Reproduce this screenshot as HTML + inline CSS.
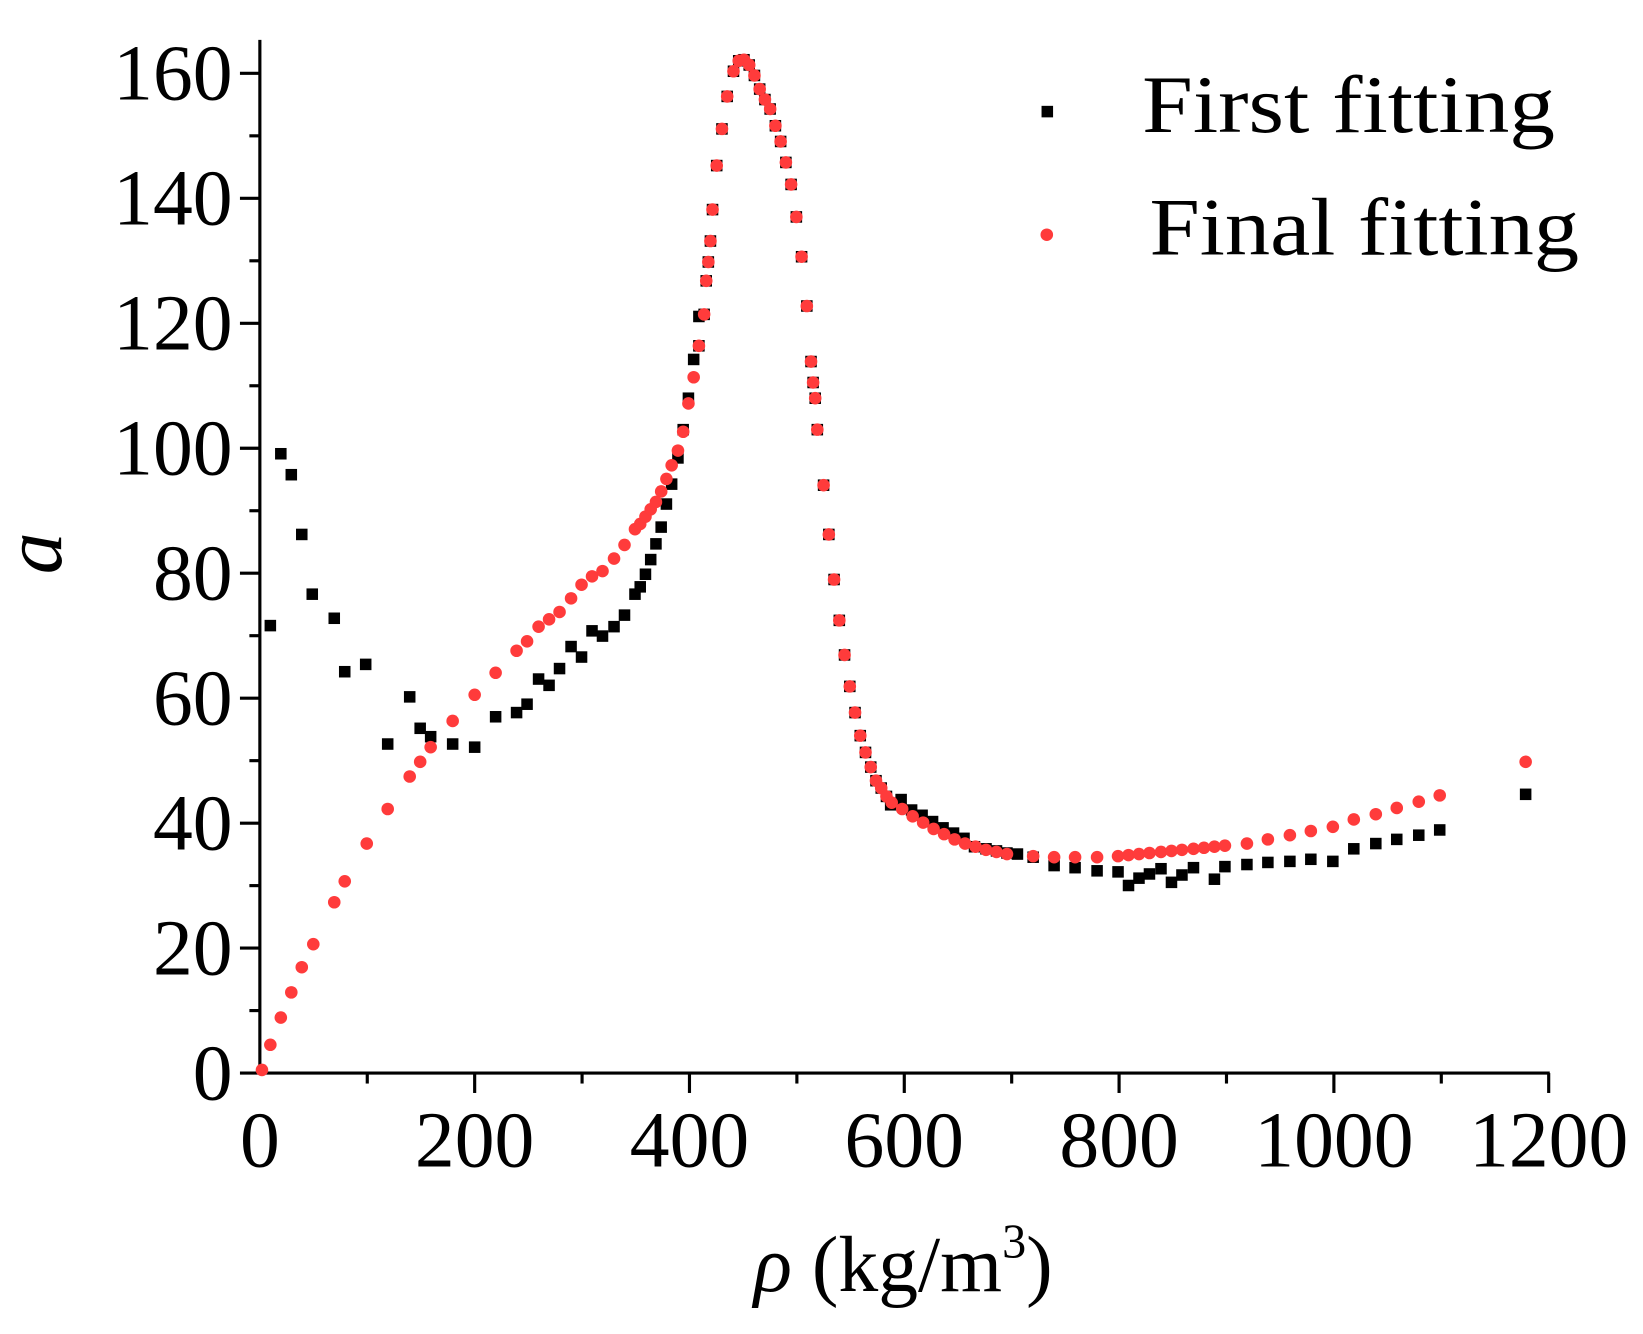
<!DOCTYPE html>
<html><head><meta charset="utf-8"><style>html,body{margin:0;padding:0;background:#fff}svg{display:block}</style></head>
<body>
<svg width="1643" height="1334" viewBox="0 0 1568 1273" preserveAspectRatio="none" xmlns="http://www.w3.org/2000/svg" font-family="'Liberation Serif', serif">
<g stroke="#000" stroke-width="3" fill="none">
<line x1="248" y1="38" x2="248" y2="1025"/>
<line x1="246.5" y1="1024" x2="1479" y2="1024"/>
</g>
<g id="ticks" stroke="#000" stroke-width="3"></g>
<g font-size="76" fill="#000" text-anchor="end" id="ylab"></g>
<g font-size="76" fill="#000" text-anchor="middle" id="xlab"></g>
<text x="862" y="1232" font-size="76" text-anchor="middle"><tspan font-style="italic">ρ</tspan> (kg/m<tspan font-size="46" dy="-32">3</tspan><tspan dy="32">)</tspan></text>
<text transform="translate(58,528) rotate(-90)" font-size="80" font-style="italic" text-anchor="middle">a</text>
<rect x="994" y="101" width="11" height="11" fill="#000"/>
<text x="1090" y="126" font-size="78" textLength="394" lengthAdjust="spacingAndGlyphs">First fitting</text>
<circle cx="999" cy="224" r="6" fill="#ff3b3b"/>
<text x="1097" y="243" font-size="78" textLength="410" lengthAdjust="spacingAndGlyphs">Final fitting</text>
<g id="blk" fill="#000"></g>
<g id="red" fill="#ff3b3b"></g>
<script>
var NS="http://www.w3.org/2000/svg";
function el(p,t,a){var e=document.createElementNS(NS,t);for(var k in a)e.setAttribute(k,a[k]);p.appendChild(e);return e;}
var tk=document.getElementById('ticks');
for(var v=0;v<=160;v+=10){var y=1024-v*5.9625;el(tk,'line',{x1:v%20?238:229,y1:y,x2:248,y2:y});}
for(var v=100;v<=1200;v+=100){var x=248+v*1.025;el(tk,'line',{x1:x,y1:1024,x2:x,y2:v%200?1034:1043});}
var yl=document.getElementById('ylab');
for(var v=0;v<=160;v+=20){var t=el(yl,'text',{x:222,y:1024-v*5.9625+25});t.textContent=v;}
var xl=document.getElementById('xlab');
for(var v=0;v<=1200;v+=200){var t=el(xl,'text',{x:248+v*1.025,y:1113});t.textContent=v;}
var B=[[258,597],[268,433],[278,453],[288,510],[298,567],[319,590],[329,641],[349,634],[370,710],[391,665],[401,695],[411,703],[432,710],[453,713],[473,684],[493,680],[503,672],[514,648],[524,654],[534,638],[545,617],[555,627],[565,602],[575,607],[586,598],[596,587],[606,567],[611,560],[616,548],[621,534],[626,519],[631,503],[636,481],[641,462],[647,437],[652,410],[657,380],[662,343],[667,302],[850,768],[860,763],[870,773],[880,778],[890,784],[900,790],[910,795],[920,800],[930,808],[941,810],[951,812],[961,814],[971,815],[986,818],[1006,826],[1026,828],[1047,831],[1067,832],[1077,845],[1087,838],[1097,834],[1108,829],[1118,842],[1128,835],[1139,828],[1159,839],[1169,827],[1190,825],[1210,823],[1231,822],[1251,820],[1272,822],[1292,810],[1313,805],[1333,801],[1354,797],[1374,792],[1456,758]];
var R=[[250,1021],[258,997],[268,971],[278,947],[288,923],[299,901],[319,861],[329,841],[350,805],[370,772],[391,741],[401,727],[411,713],[432,688],[453,663],[473,642],[493,621],[503,612],[514,598],[524,591],[534,584],[545,571],[555,558],[565,550],[575,545],[586,533],[596,520],[606,505],[611,500],[616,493],[621,486],[626,479],[631,469],[636,457],[641,444],[647,430],[652,412],[657,385],[662,360],[667,330],[672,300],[674,268],[676,250],[678,230],[680,200],[684,158],[689,123],[694,92],[700,68],[705,58],[710,57],[715,62],[720,72],[725,85],[730,95],[735,104],[740,120],[745,135],[750,155],[755,176],[760,207],[765,245],[770,292],[774,345],[776,365],[778,380],[780,410],[786,463],[791,510],[796,553],[801,592],[806,625],[811,655],[816,680],[821,702],[826,718],[831,732],[836,745],[841,752],[846,760],[851,766],[861,772],[871,779],[881,785],[891,791],[901,796],[911,801],[921,805],[931,808],[941,811],[951,813],[961,815],[986,817],[1006,818],[1026,818],[1047,818],[1067,817],[1077,816],[1087,815],[1097,814],[1108,813],[1118,812],[1128,811],[1139,810],[1149,809],[1159,808],[1169,807],[1190,805],[1210,801],[1231,797],[1251,793],[1272,789],[1292,782],[1313,777],[1333,771],[1354,765],[1374,759],[1456,727]];
var bg=document.getElementById('blk'),rg=document.getElementById('red');
B.forEach(function(p){el(bg,'rect',{x:p[0]-5.5,y:p[1]-5.5,width:11,height:11});});
R.forEach(function(p){if(p[0]>=667&&p[0]<=846)el(bg,'rect',{x:p[0]-5.5,y:p[1]-5.5,width:11,height:11});});
R.forEach(function(p){el(rg,'circle',{cx:p[0],cy:p[1],r:6});});
</script>
</svg>
</body></html>
